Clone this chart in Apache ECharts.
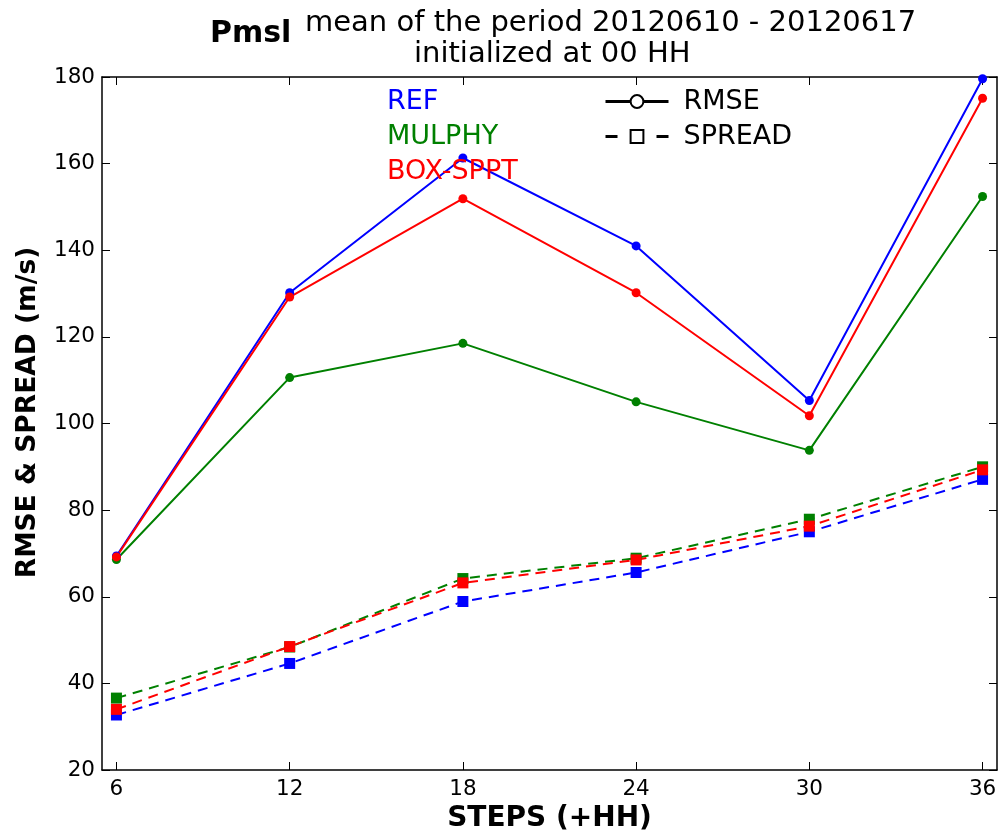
<!DOCTYPE html>
<html>
<head>
<meta charset="utf-8">
<script src="https://cdn.jsdelivr.net/npm/echarts@6/dist/echarts.min.js"></script>
<style>
  html, body { margin: 0; padding: 0; background: #fff; }
  #chart { width: 999px; height: 832px; }
</style>
</head>
<body>
<div id="chart"></div>
<script>
// forecast steps (+HH)
var steps = [6, 12, 18, 24, 30, 36];
var xTicks = [6, 12, 18, 24, 30, 36];
var yTicks = [20, 40, 60, 80, 100, 120, 140, 160, 180];

// RMSE (solid lines)
var rmseRef    = [69.4, 130.2, 161.3, 141.0, 105.3, 179.6];
var rmseMulphy = [68.6, 110.6, 118.5, 105.0, 93.8, 152.4];
var rmseBox    = [69.2, 129.2, 151.9, 130.2, 101.8, 175.1];

// SPREAD (dashed lines)
var spreadRef    = [32.7, 44.6, 58.9, 65.6, 75.0, 87.1];
var spreadMulphy = [36.6, 48.4, 64.2, 68.9, 77.9, 90.0];
var spreadBox    = [34.0, 48.5, 63.2, 68.5, 76.3, 89.3];

var font = 'DejaVu Sans';
var colors = { REF: '#0000ff', MULPHY: '#008000', 'BOX-SPPT': '#ff0000' };

function pairs(vals) {
    return steps.map(function (s, i) { return [s, vals[i]]; });
}

function rmseSeries(name, vals) {
    return {
        name: name, type: 'line', data: pairs(vals),
        symbol: 'circle', symbolSize: 9,
        color: colors[name],
        lineStyle: { width: 2, color: colors[name] },
        itemStyle: { color: colors[name] },
        emphasis: { disabled: true },
        animation: false
    };
}
function spreadSeries(name, vals) {
    return {
        name: name, type: 'line', data: pairs(vals),
        symbol: 'rect', symbolSize: 11,
        color: colors[name],
        lineStyle: { width: 2, color: colors[name], type: [10, 7] },
        itemStyle: { color: colors[name] },
        emphasis: { disabled: true },
        animation: false
    };
}

var axisLine = { show: true, lineStyle: { color: '#000', width: 1.5 } };
var tick = { show: true, inside: true, length: 8, lineStyle: { color: '#000', width: 1 } };

var option = {
    backgroundColor: '#fff',
    title: [
        { text: 'Pmsl', left: 205, top: 14, textStyle: { fontFamily: font, fontSize: 30, fontWeight: 'bold', color: '#000' } },
        { text: 'mean of the period 20120610 - 20120617', left: 300, top: 4, textStyle: { fontFamily: font, fontSize: 29, fontWeight: 'normal', color: '#000' } },
        { text: 'initialized at 00 HH', left: 409, top: 35, textStyle: { fontFamily: font, fontSize: 29, fontWeight: 'normal', color: '#000' } }
    ],
    legend: [
        {
            left: 377, top: 83, orient: 'vertical',
            itemWidth: 0, itemHeight: 27, itemGap: 8,
            selectedMode: false,
            data: [
                { name: 'REF', icon: 'none', textStyle: { color: colors.REF } },
                { name: 'MULPHY', icon: 'none', textStyle: { color: colors.MULPHY } },
                { name: 'BOX-SPPT', icon: 'none', textStyle: { color: colors['BOX-SPPT'] } }
            ],
            textStyle: { fontFamily: font, fontSize: 27, lineHeight: 27, padding: [0, 0, 0, 0] }
        },
        {
            left: 599, top: 83, orient: 'vertical',
            itemWidth: 63, itemHeight: 16, itemGap: 8,
            selectedMode: false,
            lineStyle: { width: 3 },
            data: ['RMSE', 'SPREAD'],
            textStyle: { fontFamily: font, fontSize: 27, lineHeight: 27, color: '#000', padding: [0, 0, 0, 10] }
        }
    ],
    grid: { left: 102, right: 2, top: 77, bottom: 62, outerBoundsMode: 'none' },
    xAxis: [
        {
            type: 'value', min: 5.5, max: 36.5,
            name: 'STEPS (+HH)', nameLocation: 'middle', nameGap: 32,
            nameTextStyle: { fontFamily: font, fontSize: 28, fontWeight: 'bold', color: '#000' },
            axisLine: axisLine,
            axisTick: Object.assign({ customValues: xTicks }, tick),
            axisLabel: { customValues: xTicks, margin: 8, fontFamily: font, fontSize: 21.5, color: '#000' },
            splitLine: { show: false }
        },
        {
            type: 'value', min: 5.5, max: 36.5, position: 'top',
            axisLine: axisLine,
            axisTick: Object.assign({ customValues: xTicks }, tick),
            axisLabel: { show: false },
            splitLine: { show: false }
        }
    ],
    yAxis: [
        {
            type: 'value', min: 20, max: 180,
            name: 'RMSE & SPREAD (m/s)', nameLocation: 'middle', nameGap: 60,
            nameTextStyle: { fontFamily: font, fontSize: 26.5, fontWeight: 'bold', color: '#000', padding: [0, 0, 0, 22] },
            axisLine: axisLine,
            axisTick: Object.assign({ customValues: yTicks }, tick),
            axisLabel: { customValues: yTicks, margin: 7, fontFamily: font, fontSize: 21.5, color: '#000' },
            splitLine: { show: false }
        },
        {
            type: 'value', min: 20, max: 180, position: 'right',
            axisLine: axisLine,
            axisTick: Object.assign({ customValues: yTicks }, tick),
            axisLabel: { show: false },
            splitLine: { show: false }
        }
    ],
    series: [
        spreadSeries('REF', spreadRef),
        spreadSeries('MULPHY', spreadMulphy),
        spreadSeries('BOX-SPPT', spreadBox),
        rmseSeries('REF', rmseRef),
        rmseSeries('MULPHY', rmseMulphy),
        rmseSeries('BOX-SPPT', rmseBox),
        // legend-only entries for line styles
        {
            name: 'RMSE', type: 'line', data: [],
            symbol: 'emptyCircle', color: '#000',
            lineStyle: { color: '#000', width: 3 },
            itemStyle: { color: '#000' }
        },
        {
            name: 'SPREAD', type: 'line', data: [],
            symbol: 'emptyRect', color: '#000',
            lineStyle: { color: '#000', width: 3, type: [12, 39] },
            itemStyle: { color: '#000' }
        }
    ]
};

var chart = echarts.init(document.getElementById('chart'), null, { renderer: 'canvas' });
chart.setOption(option);
</script>
</body>
</html>
